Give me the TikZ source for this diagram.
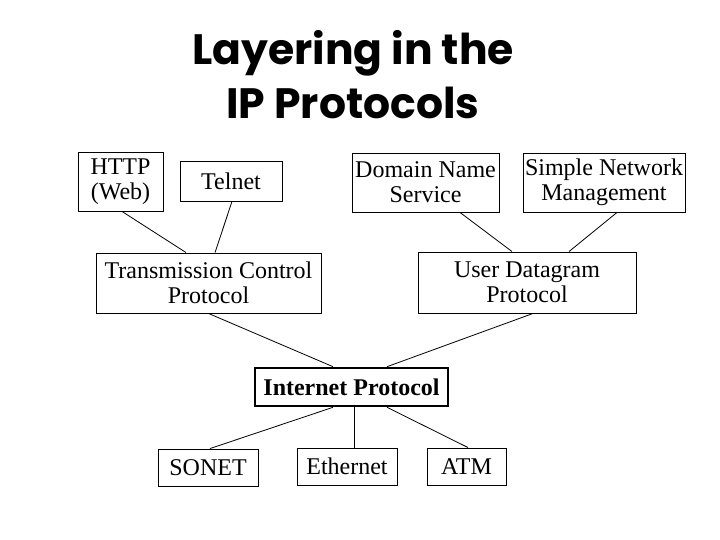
\documentclass[tikz,border=0pt]{standalone}
\usepackage{fontspec}
\setmainfont{Liberation Serif}
\newfontfamily\titlefont{Poppins}
\usetikzlibrary{positioning}
\tikzset{
  every picture/.style={line width=0.9pt},
  layerbox/.style={draw, rectangle, inner sep=0pt, align=center,
                   font=\fontsize{24}{25}\selectfont},
  ipbox/.style={layerbox, line width=2.6pt, font=\fontsize{24}{25}\selectfont\bfseries},
  link/.style={draw, line width=0.8pt},
  titletext/.style={align=center, inner sep=0pt,
                    font=\titlefont\bfseries\fontsize{42.5}{54}\selectfont},
}

\begin{document}
\begin{tikzpicture}[x=1pt, y=-1pt]
  \useasboundingbox (0,0) rectangle (720,540);
  \node[titletext] (title) at (353,75) {Layering in the\\IP Protocols};
  % application layer
  \node[layerbox, minimum width=85pt, minimum height=59pt] (http) at (120.5,181.5) {HTTP\\(Web)};
  \node[layerbox, minimum width=102pt, minimum height=40pt] (telnet) at (231,181) {Telnet};
  \node[layerbox, minimum width=147pt, minimum height=59pt] (dns) at (425.5,182.5) {Domain Name\\Service};
  \node[layerbox, minimum width=162pt, minimum height=59pt] (snmp) at (604,182.5) {Simple Network\\Management};
  % transport layer
  \node[layerbox, minimum width=225pt, minimum height=60pt] (tcp) at (208.5,283) {Transmission Control\\Protocol};
  \node[layerbox, minimum width=218pt, minimum height=61pt] (udp) at (527,282.5) {User Datagram\\Protocol};
  % network layer
  \node[ipbox, minimum width=193pt, minimum height=38pt] (ip) at (351.5,387) {Internet Protocol};
  % link layer
  \node[layerbox, minimum width=100pt, minimum height=37pt] (sonet) at (208,467.5) {SONET};
  \node[layerbox, minimum width=100pt, minimum height=37pt] (ether) at (347,466.5) {Ethernet};
  \node[layerbox, minimum width=79pt, minimum height=37pt] (atm) at (466.5,466.5) {ATM};

  \draw[link] ([xshift=1.5pt]http.south) -- ([xshift=-22.5pt]tcp.north);
  \draw[link] ([xshift=1pt]telnet.south) -- ([xshift=6.5pt]tcp.north);
  \draw[link] ([xshift=34.5pt]dns.south) -- ([xshift=-15pt]udp.north);
  \draw[link] ([xshift=13pt]snmp.south) -- ([xshift=42pt]udp.north);
  \draw[link] (tcp.south) -- ([xshift=-18.5pt]ip.north);
  \draw[link] ([xshift=6pt]udp.south) -- ([xshift=35.5pt]ip.north);
  \draw[link] ([xshift=-18.5pt]ip.south) -- ([xshift=2pt]sonet.north);
  \draw[link] ([xshift=2.5pt]ip.south) -- ([xshift=7pt]ether.north);
  \draw[link] ([xshift=35.5pt]ip.south) -- ([xshift=1.5pt]atm.north);
\end{tikzpicture}
\end{document}
